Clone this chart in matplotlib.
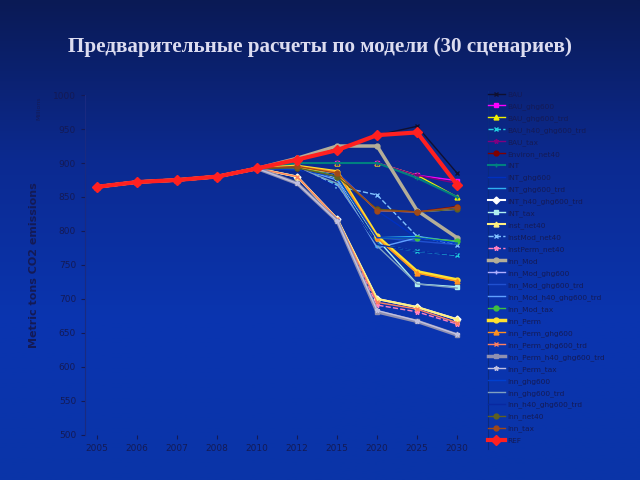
import matplotlib
matplotlib.use("Agg")
import matplotlib.pyplot as plt
import numpy as np

# --- Data ---
years = ["2005", "2006", "2007", "2008", "2010", "2012", "2015", "2020", "2025", "2030"]
base = [865, 872, 875, 880, 892]

scenarios = [
    "BAU", "BAU_ghg600", "BAU_ghg600_trd", "BAU_h40_ghg600_trd", "BAU_tax",
    "Environ_net40", "INT", "INT_ghg600", "INT_ghg600_trd", "INT_h40_ghg600_trd",
    "INT_tax", "Inst_net40", "InstMod_net40", "InstPerm_net40", "Inn_Mod",
    "Inn_Mod_ghg600", "Inn_Mod_ghg600_trd", "Inn_Mod_h40_ghg600_trd", "Inn_Mod_tax", "Inn_Perm",
    "Inn_Perm_ghg600", "Inn_Perm_ghg600_trd", "Inn_Perm_h40_ghg600_trd", "Inn_Perm_tax", "Inn_ghg600",
    "Inn_ghg600_trd", "Inn_h40_ghg600_trd", "Inn_net40", "Inn_tax", "REF",
]

# values for 2012, 2015, 2020, 2025, 2030
tails = [
    [905, 919, 941, 954, 885],
    [900, 900, 900, 882, 874],
    [900, 900, 900, 882, 850],
    [895, 868, 780, 770, 764],
    [900, 900, 900, 882, 870],
    [893, 880, 832, 828, 836],
    [900, 900, 900, 878, 850],
    [895, 888, 830, 790, 785],
    [895, 880, 790, 792, 784],
    [880, 818, 700, 688, 670],
    [895, 878, 788, 722, 718],
    [880, 818, 700, 688, 670],
    [895, 866, 853, 792, 780],
    [870, 815, 691, 681, 663],
    [907, 925, 925, 830, 790],
    [893, 885, 830, 828, 832],
    [893, 880, 790, 785, 780],
    [893, 875, 775, 790, 785],
    [895, 880, 790, 790, 785],
    [895, 887, 792, 740, 728],
    [895, 887, 790, 738, 726],
    [880, 818, 695, 685, 665],
    [870, 815, 681, 667, 647],
    [870, 815, 683, 668, 648],
    [890, 880, 790, 790, 782],
    [893, 870, 778, 722, 716],
    [893, 865, 780, 770, 765],
    [893, 880, 832, 828, 832],
    [895, 885, 830, 828, 835],
    [905, 919, 941, 945, 868],
]

colors = [
    "#101030", "#ff00ff", "#f0f000", "#20d0e0", "#800080",
    "#800000", "#008080", "#0030c0", "#30b0f0", "#ffffff",
    "#b0f0f0", "#fff080", "#80c0ff", "#ff80c0", "#b4ae98",
    "#b0b0ff", "#2050d0", "#60a0ff", "#40c040", "#ffe030",
    "#ff9020", "#ff8060", "#9090b0", "#c0c0e0", "#0040d0",
    "#80a0c0", "#0828a0", "#606020", "#a04818", "#ff2020",
]
markers = [
    "x", "s", "^", "x", "*", "o", "+", "", "", "D",
    "s", "^", "x", "*", "o", "+", "", "", "o", "o",
    "^", "x", "s", "*", "", "", "", "o", "o", "D",
]
widths = [1, 1, 1, 1, 1, 1, 1.5, 1, 1, 1.5,
          1, 1.5, 1, 1, 2.5, 1, 1, 1, 1, 2.5,
          1, 1, 2.5, 1, 1, 1, 1, 1, 1, 3]
styles = ["-"] * 30
styles[12] = "--"
styles[13] = "--"
styles[3] = "--"

# --- Figure with gradient background ---
fig = plt.figure(figsize=(6.4, 4.8), dpi=100)
bg = fig.add_axes([0, 0, 1, 1], zorder=-10)
grad = np.linspace(0, 1, 256).reshape(-1, 1)
cmap = matplotlib.colors.LinearSegmentedColormap.from_list(
    "bg", ["#0a1a55", "#0c2a90", "#0a35b0", "#0a34a8"])
bg.imshow(grad, aspect="auto", cmap=cmap, extent=[0, 1, 0, 1])
bg.axis("off")

fig.text(0.5, 0.902, "Предварительные расчеты по модели (30 сценариев)",
         ha="center", va="center", fontsize=15.2, fontweight="bold",
         family="Liberation Serif", color="#dcdcf0")

ax = fig.add_axes([0.133, 0.094, 0.625, 0.708])
ax.set_facecolor("none")
x = np.arange(len(years))
lines = []
for name, tail, c, m, w, ls in zip(scenarios, tails, colors, markers, widths, styles):
    ms = 5 if name == "REF" else 3.5
    ln, = ax.plot(x, base + tail, color=c, marker=m, lw=w, ls=ls, ms=ms,
                  markeredgewidth=1, label=name)
    lines.append(ln)

ax.set_ylim(500, 1000)
ax.set_yticks(range(500, 1001, 50))
ax.set_xlim(-0.3, 9.7)
ax.set_xticks(x)
ax.set_xticklabels(years)
txt = "#141a55"
ax.tick_params(colors=txt, labelsize=6.5, length=3)
for side in ["top", "right", "bottom"]:
    ax.spines[side].set_visible(False)
ax.spines["left"].set_color("#1a2a80")
ax.set_ylabel("Metric tons CO2 emissions", fontsize=8, fontweight="bold",
              color=txt, labelpad=10)
fig.text(0.06, 0.775, "Millions", rotation=90, fontsize=4.5, color=txt,
         ha="center", va="center")

leg = fig.legend(handles=lines, loc="upper left", bbox_to_anchor=(0.755, 0.82),
                 fontsize=5.3, frameon=False, handlelength=2.2, labelspacing=0.69,
                 borderpad=0.2, handletextpad=0.4)
for t in leg.get_texts():
    t.set_color(txt)
fig.add_artist(plt.Line2D([0.762, 0.762], [0.065, 0.81], color="#0a2a80", lw=0.8))

fig.savefig("out.png", dpi=100)
